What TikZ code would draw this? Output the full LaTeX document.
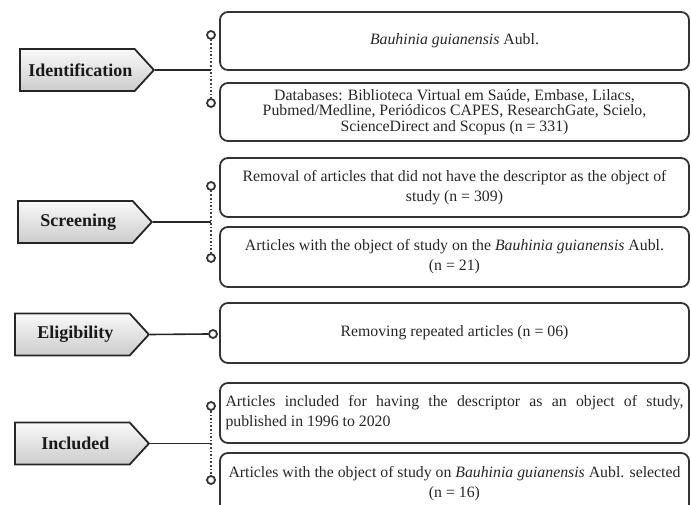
\documentclass[tikz,border=0pt]{standalone}
\usepackage{fontspec}
\setmainfont{Liberation Serif}
\usetikzlibrary{shapes.symbols,positioning,calc}

\tikzset{
  stage/.style={shape=signal, signal to=east, signal pointer angle=95,
    draw=black!85, line width=1.8pt, top color=gray!5, bottom color=gray!40,
    minimum width=134pt, minimum height=42pt, inner sep=0pt,
    font=\fontsize{18}{20}\selectfont\bfseries, text=black!90},
  entry/.style={draw=black!80, line width=1.8pt, rounded corners=8pt,
    minimum width=469pt, align=center, inner sep=4pt,
    font=\fontsize{15.8}{20}\selectfont, text=black!85},
  knob/.style={circle, draw=black!80, line width=1.8pt, fill=white,
    inner sep=0pt, minimum size=8pt},
  link/.style={line width=1.6pt, draw=black!85},
  dots/.style={line width=1.6pt, dotted, draw=black!75}
}

\begin{document}
\begin{tikzpicture}[x=1pt, y=-1pt]
    \useasboundingbox (0,0) rectangle (691,505);
    \clip (0,0) rectangle (691,505);

    % Identification
    \node[entry, minimum height=58pt] (b1) at (454.5,41) {\textit{Bauhinia guianensis} Aubl.};
    \node[entry, minimum height=58pt, font=\fontsize{15.8}{15.5}\selectfont] (b2) at (454.5,112)
        {Databases: Biblioteca Virtual em Saúde, Embase, Lilacs,\\
         Pubmed/Medline, Periódicos CAPES, ResearchGate, Scielo,\\
         ScienceDirect and Scopus (n = 331)};
    \node[stage, anchor=west] (ident) at (19,70) {\hspace{6pt}Identification};
    \node[knob] (k1a) at (211,35) {};
    \node[knob] (k1b) at (211,103) {};
    \draw[dots] (k1a.south) -- (k1b.north);
    \draw[link] (ident.east) -- (ident.east -| k1a);

    % Screening
    \node[entry, minimum height=59pt] (b3) at (454.5,187.5)
        {Removal of articles that did not have the descriptor as the object of\\ study (n = 309)};
    \node[entry, minimum height=60pt] (b4) at (454.5,257)
        {Articles with the object of study on the \textit{Bauhinia guianensis} Aubl.\\ (n = 21)};
    \node[stage, anchor=west] (screen) at (17,222) {\hspace{6pt}Screening};
    \node[knob] (k2a) at (211,186) {};
    \node[knob] (k2b) at (211,258) {};
    \draw[dots] (k2a.south) -- (k2b.north);
    \draw[link] (screen.east) -- (screen.east -| k2a);

    % Eligibility
    \node[entry, minimum height=60pt] (b5) at (454.5,333) {Removing repeated articles (n = 06)};
    \node[stage, anchor=west] (elig) at (14,334.5) {\hspace{6pt}Eligibility};
    \node[knob] (k3) at (213,334) {};
    \draw[link] (elig.east) -- (k3.west);

    % Included
    \node[entry, minimum height=60pt, align=justify, text width=458pt] (b6) at (454.5,413)
        {Articles included for having the descriptor as an object of study,\linebreak
         published in 1996 to 2020};
    \node[entry, minimum height=62pt] (b7) at (454.5,484)
        {Articles with the object of study on \textit{Bauhinia guianensis} Aubl. selected\\ (n = 16)};
    \node[stage, anchor=west] (incl) at (14,443.5) {\hspace{6pt}Included};
    \node[knob] (k4a) at (211,406) {};
    \node[knob] (k4b) at (211,480) {};
    \draw[dots] (k4a.south) -- (k4b.north);
    \draw[link] (incl.east) -- (incl.east -| k4a);
\end{tikzpicture}
\end{document}
